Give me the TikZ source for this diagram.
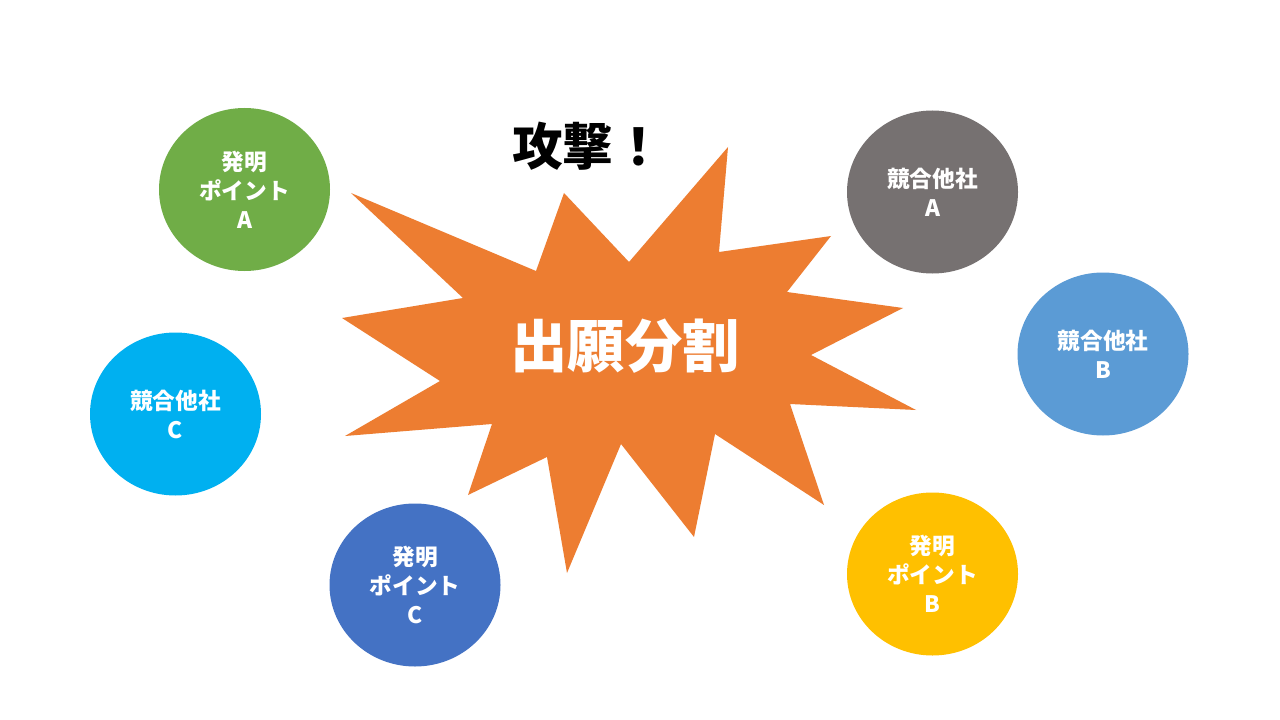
\documentclass[tikz,border=0pt]{standalone}
\usepackage{fontspec}
\setmainfont{Noto Sans CJK JP}
\usetikzlibrary{shapes.geometric}
\definecolor{cgreen}{HTML}{70AD47}
\definecolor{cgray}{HTML}{767171}
\definecolor{clblue}{HTML}{5B9BD5}
\definecolor{ccyan}{HTML}{00B0F0}
\definecolor{cblue}{HTML}{4472C4}
\definecolor{cyellow}{HTML}{FFC000}
\definecolor{corange}{HTML}{ED7D31}
\tikzset{
  bubble/.style={ellipse, minimum width=128.25pt, minimum height=122.25pt, inner sep=0pt,
    text=white, align=center, font=\fontsize{17}{21.75}\selectfont\bfseries},
}
\begin{document}
\begin{tikzpicture}[x=0.75pt,y=-0.75pt]
\useasboundingbox (0,0) rectangle (1280,720);
\fill[white] (0,0) rectangle (1280,720);
% burst
\fill[corange] (351,193) -- (536,271) -- (564,193) -- (629,262) -- (728,147) -- (719,252)
  -- (831,236) -- (787,292) -- (903,308) -- (811,355) -- (916,410) -- (790,404)
  -- (824,505) -- (715,434) -- (694,537) -- (621,444) -- (567,573) -- (547,457)
  -- (468,495) -- (492,424) -- (345,436) -- (440,381) -- (342,318) -- (463,298) -- cycle;
\node[text=white, font=\fontsize{43}{50}\selectfont\bfseries] (main) at (625,346) {出願分割};
\node[text=black, font=\fontsize{38}{44}\selectfont\bfseries] (attack) at (588,146) {攻撃！};
% bubbles
\node[bubble, fill=cgreen] (pa) at (244.5,189.5) {発明\\ポイント\\A};
\node[bubble, fill=cgray] (ca) at (932.5,192) {競合他社\\A};
\node[bubble, fill=clblue] (cb) at (1103,354) {競合他社\\B};
\node[bubble, fill=ccyan] (cc) at (175.5,414) {競合他社\\C};
\node[bubble, fill=cblue] (pc) at (415,585) {発明\\ポイント\\C};
\node[bubble, fill=cyellow] (pb) at (932.5,574) {発明\\ポイント\\B};
\end{tikzpicture}
\end{document}
